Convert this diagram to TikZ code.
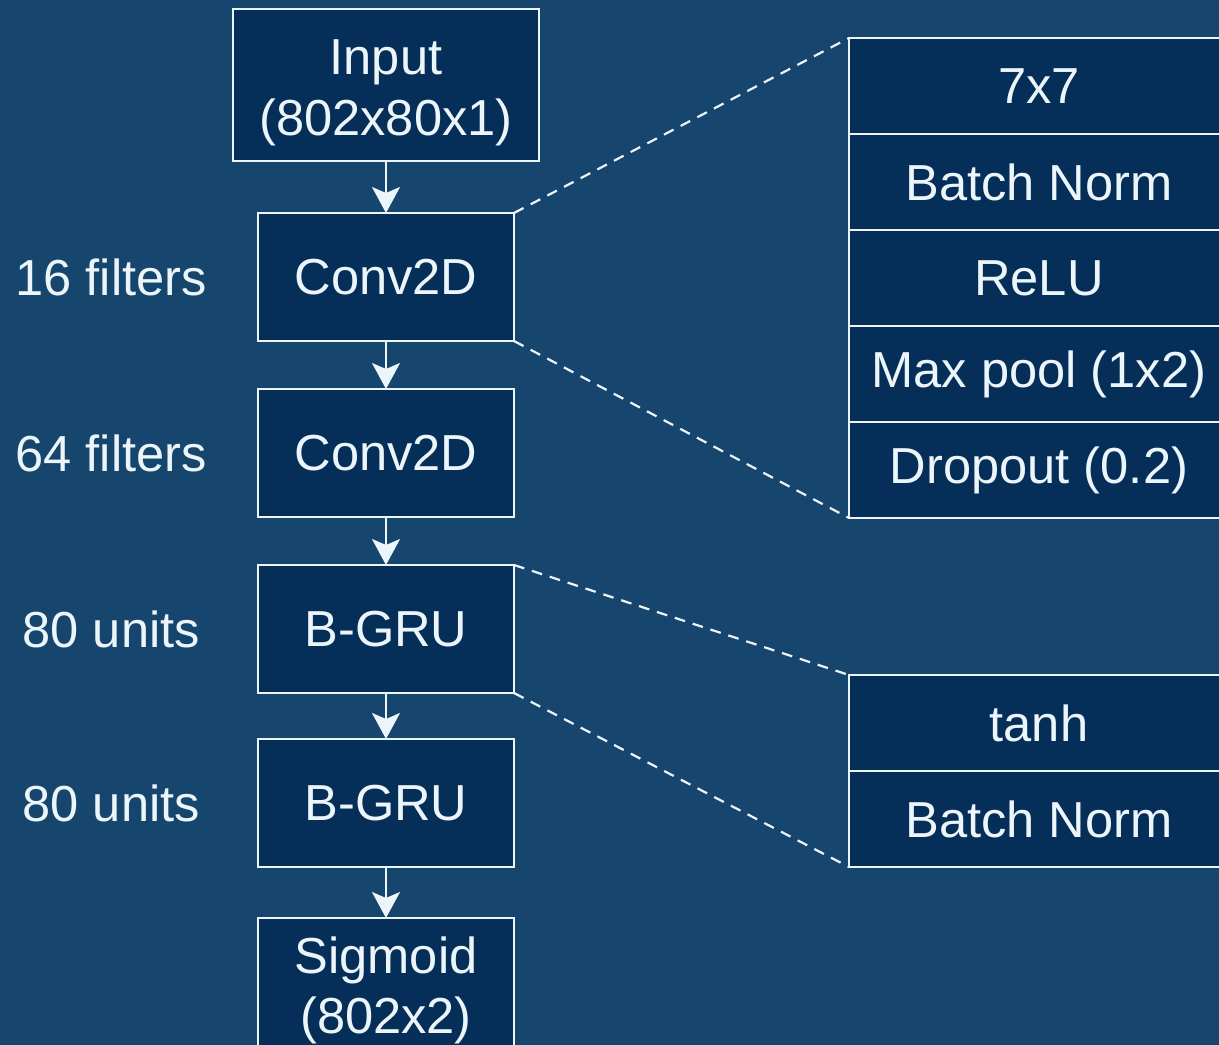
\documentclass[tikz,border=0pt]{standalone}
\usepackage{fontspec}
\setmainfont{Liberation Sans}
\usetikzlibrary{arrows.meta,positioning}
\definecolor{bgblue}{RGB}{22,70,110}
\definecolor{boxblue}{RGB}{5,46,88}
\definecolor{linewhite}{RGB}{236,245,250}
\newcommand{\toprule}{\rule{0pt}{1em}}

\begin{document}
\begin{tikzpicture}[
    node distance=1.2cm,
    layer/.style={rectangle, draw=linewhite, fill=boxblue, line width=0.07cm, outer sep=0pt, minimum width=6.4cm, minimum height=3.2cm, text=linewhite, align=center, font=\fontsize{36}{43}\selectfont},
    op/.style={layer, minimum width=9.5cm, minimum height=2.4cm},
    note/.style={text=linewhite, font=\fontsize{36}{43}\selectfont},
    edge/.style={-{Stealth[length=0.65cm, width=0.7cm, inset=0.15cm]}, line width=0.05cm, linewhite},
    zoomline/.style={dash pattern=on 0.27cm off 0.2cm, line width=0.055cm, linewhite}
]
    \fill[bgblue] (0,0) rectangle (30.475,-26.125);
    \useasboundingbox (0,0) rectangle (30.475,-26.125);

    % main network
    \node[layer, minimum width=7.65cm, minimum height=3.8cm] (input) at (9.65,-2.125) {\toprule Input\\(802x80x1)};
    \node[layer, below=1.3cm of input] (conv1) {Conv2D};
    \node[layer, below=of conv1] (conv2) {Conv2D};
    \node[layer, below=of conv2] (gru1) {B-GRU};
    \node[layer, below=1.15cm of gru1] (gru2) {B-GRU};
    \node[layer, below=1.275cm of gru2] (sigm) {\toprule Sigmoid\\(802x2)};

    \draw[edge] (input) -- (conv1);
    \draw[edge] (conv1) -- (conv2);
    \draw[edge] (conv2) -- (gru1);
    \draw[edge] (gru1) -- (gru2);
    \draw[edge] (gru2) -- (sigm);

    % sizes on the left
    \coordinate (lcol) at (2.78,0);
    \node[note] (f16) at (lcol |- conv1) {16 filters};
    \node[note] (f64) at (lcol |- conv2) {64 filters};
    \node[note] (u80a) at (lcol |- gru1) {80 units};
    \node[note] (u80b) at (lcol |- gru2) {80 units};

    % conv block detail
    \node[op] (k7) at (25.975,-2.15) {7x7};
    \node[op, below=0cm of k7] (bn1) {Batch Norm};
    \node[op, below=0cm of bn1] (relu) {ReLU};
    \node[op, below=0cm of relu] (pool) {Max pool (1x2)};
    \node[op, below=0cm of pool] (drop) {Dropout (0.2)};

    \draw[zoomline] (conv1.north east) -- (k7.north west);
    \draw[zoomline] (conv1.south east) -- (drop.south west);

    % gru block detail
    \node[op] (tanh) at (25.975,-18.075) {tanh};
    \node[op, below=0cm of tanh] (bn2) {Batch Norm};

    \draw[zoomline] (gru1.north east) -- (tanh.north west);
    \draw[zoomline] (gru1.south east) -- (bn2.south west);
\end{tikzpicture}
\end{document}
